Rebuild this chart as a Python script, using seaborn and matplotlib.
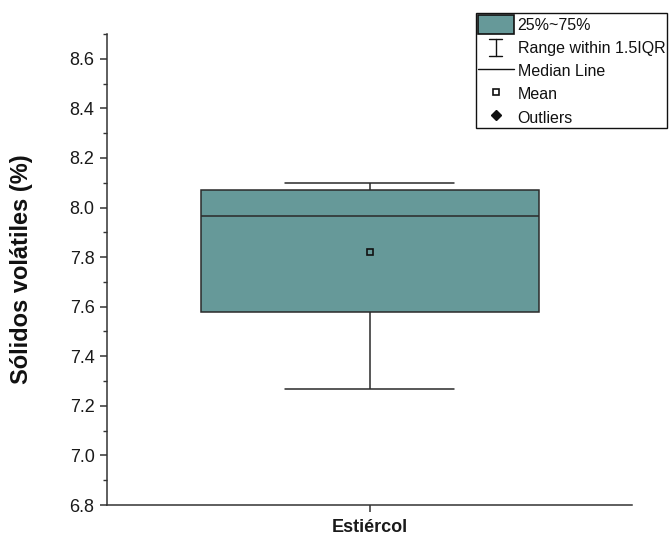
import matplotlib
matplotlib.use("Agg")
import matplotlib.pyplot as plt
import seaborn as sns
import pandas as pd
from matplotlib.lines import Line2D
from matplotlib.patches import Patch
from matplotlib.legend_handler import HandlerBase
from matplotlib.ticker import MultipleLocator

# Volatile solids (%) of the manure sample: five-number summary plus mean
category = ["Estiércol"]
whisker_low = [7.27]
q1 = [7.58]
median = [7.965]
q3 = [8.07]
whisker_high = [8.10]
mean = [7.822]

y_ticks = [6.8, 7.0, 7.2, 7.4, 7.6, 7.8, 8.0, 8.2, 8.4, 8.6]
legend_labels = ["25%~75%", "Range within 1.5IQR", "Median Line", "Mean", "Outliers"]

BOX_COLOR = "#669999"
LINE_COLOR = "#2a2a2a"

rows = []
for c, lo, a, m, b, hi in zip(category, whisker_low, q1, median, q3, whisker_high):
    for v in (lo, a, m, b, hi):
        rows.append({"muestra": c, "sv": v})
df = pd.DataFrame(rows)

sns.set_theme(style="ticks")
plt.rcParams["font.family"] = ["Liberation Sans", "DejaVu Sans"]

fig = plt.figure(figsize=(6.69, 5.39), dpi=100)
ax = fig.add_axes([0.16, 0.063, 0.785, 0.874])

sns.boxplot(
    data=df, x="muestra", y="sv", order=category,
    color=BOX_COLOR, saturation=1, width=0.644,
    linecolor=LINE_COLOR, linewidth=1.1, whis=1.5,
    ax=ax,
)
sns.pointplot(
    x=category, y=mean, order=category,
    markers="s", linestyles="none", color="#111111",
    markersize=4, markerfacecolor="none", markeredgewidth=1.2,
    errorbar=None, ax=ax,
)

ax.set_xlim(-0.5, 0.5)
ax.set_ylim(6.8, 8.7)
ax.set_yticks(y_ticks)
ax.set_yticklabels([f"{t:.1f}" for t in y_ticks])
ax.yaxis.set_minor_locator(MultipleLocator(0.1))
ax.set_xlabel("")
ax.set_ylabel("Sólidos volátiles (%)", fontsize=17, fontweight="bold",
              color="#111111", labelpad=26)

sns.despine(ax=ax)
for side in ("left", "bottom"):
    ax.spines[side].set_color("#333333")
    ax.spines[side].set_linewidth(1.1)

ax.tick_params(axis="y", which="major", direction="out", length=5, width=1.1,
               color="#333333", labelsize=13, labelcolor="#1a1a1a", pad=4)
ax.tick_params(axis="y", which="minor", direction="out", length=3, width=1.0,
               color="#333333")
ax.tick_params(axis="x", which="major", direction="out", length=5, width=1.1,
               color="#333333", labelsize=13, labelcolor="#1a1a1a", pad=5)
for lbl in ax.get_xticklabels():
    lbl.set_fontweight("bold")


class HandlerRange(HandlerBase):
    """Draws an I-beam symbol for the whisker range entry."""

    def create_artists(self, legend, orig_handle, xdescent, ydescent,
                       width, height, fontsize, trans):
        cx = -xdescent + width / 2
        y0 = -ydescent + height * 0.02
        y1 = -ydescent + height * 0.98
        half = width * 0.19
        kw = dict(color="#111111", linewidth=1.0, transform=trans)
        return [
            Line2D([cx, cx], [y0, y1], **kw),
            Line2D([cx - half, cx + half], [y0, y0], **kw),
            Line2D([cx - half, cx + half], [y1, y1], **kw),
        ]


range_handle = Line2D([], [])
handles = [
    Patch(facecolor=BOX_COLOR, edgecolor="#111111", linewidth=1.2),
    range_handle,
    Line2D([], [], color="#111111", linewidth=1.0),
    Line2D([], [], linestyle="none", marker="s", markersize=4,
           markerfacecolor="none", markeredgecolor="#111111", markeredgewidth=1.2),
    Line2D([], [], linestyle="none", marker="D", markersize=5,
           markerfacecolor="#111111", markeredgecolor="#111111"),
]
leg = fig.legend(
    handles, legend_labels,
    loc="upper left", bbox_to_anchor=(0.7115, 0.975),
    fontsize=11.5, frameon=True, fancybox=False, framealpha=1,
    edgecolor="#111111", borderpad=0.1, borderaxespad=0, handlelength=2.25,
    handleheight=1.4, handletextpad=0.25, labelspacing=0.3,
    handler_map={range_handle: HandlerRange()},
)
leg.get_frame().set_linewidth(1.0)
for t in leg.get_texts():
    t.set_color("#111111")

fig.savefig("out.png", dpi=100)
